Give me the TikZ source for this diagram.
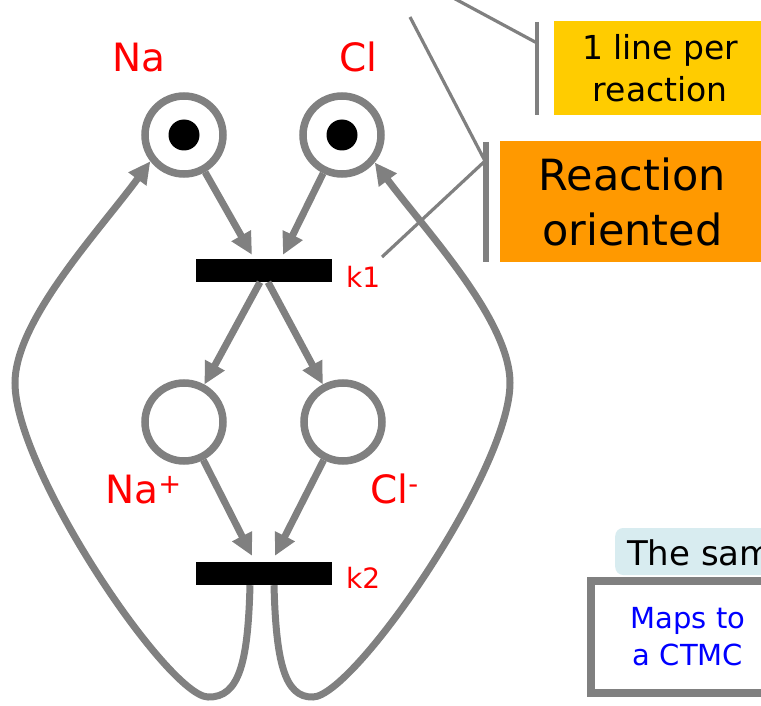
\documentclass[tikz,border=0pt]{standalone}
\usepackage{fontspec}
\setmainfont{DejaVu Sans}
\usepackage{xcolor}
\usepackage{tikz}
\usetikzlibrary{positioning,calc,arrows.meta}
\definecolor{petrigray}{RGB}{128,128,128}
\definecolor{speciesred}{RGB}{255,0,0}
\definecolor{noteyellow}{RGB}{255,204,0}
\definecolor{noteorange}{RGB}{255,153,0}
\definecolor{notecyan}{RGB}{216,236,240}
\definecolor{ctmcblue}{RGB}{0,0,255}

\begin{document}
\begin{tikzpicture}[x=1pt,y=-1pt,
  place/.style={circle,draw=petrigray,line width=7.5pt,minimum size=78pt,inner sep=0pt,fill=white},
  token/.style={circle,fill=black,minimum size=31pt,inner sep=0pt},
  trans/.style={rectangle,fill=black,minimum width=136pt,minimum height=23pt,inner sep=0pt},
  species/.style={text=speciesred,font=\fontsize{39}{44}\selectfont,anchor=base west,inner sep=0pt},
  rate/.style={text=speciesred,font=\fontsize{28}{32}\selectfont,anchor=base west,inner sep=0pt},
  flowarrow/.style={draw=petrigray,line width=7pt,-{Triangle[length=22pt,width=21pt]}},
  callout/.style={draw=petrigray,line width=3.2pt}]
\useasboundingbox (0,0) rectangle (761,706);
\clip (0,0) rectangle (761,706);

\node[fill=noteyellow,anchor=north west,minimum width=212pt,minimum height=94pt,inner sep=0pt,
  align=center,font=\fontsize{33}{42}\selectfont] (perline) at (554,21) {1 line per\\reaction};
\node[fill=noteorange,anchor=north west,minimum width=264pt,minimum height=121pt,inner sep=0pt,
  align=center,font=\fontsize{43}{55}\selectfont] (rxnorient) at (500,141) {Reaction\\oriented};
\node[fill=notecyan,rounded corners=8pt,anchor=base west,inner xsep=12pt,inner ysep=0pt,
  text height=37pt,text depth=10pt,font=\fontsize{34}{40}\selectfont] (samebox) at (615,565) {The sam};
\node[draw=petrigray,line width=8pt,fill=white,anchor=north west,minimum width=194pt,minimum height=112pt,
  inner sep=0pt,align=center,text=ctmcblue,font=\fontsize{29}{37}\selectfont] (ctmcbox) at (587,577) {Maps to\\a CTMC};

\coordinate (barAtop) at (537,22);
\coordinate (barAbot) at (537,115);
\coordinate (barAhook) at (537,43);
\coordinate (barBtop) at (486,142);
\coordinate (barBbot) at (486,262);
\coordinate (barBhook) at (485,161);
\coordinate (offtop) at (420,-20);
\coordinate (nettop) at (410,17);
\coordinate (k1tail) at (382,257);
\draw[callout,line width=3.5pt] (barAtop) -- (barAbot);
\draw[callout,line width=6pt] (barBtop) -- (barBbot);
\draw[callout] (offtop) -- (barAhook);
\draw[callout] (nettop) -- (barBhook);
\draw[callout] (k1tail) -- (barBhook);

\node[place] (Na) at (184,135) {};
\node[place] (Cl) at (342,135) {};
\node[place] (NaP) at (184,422) {};
\node[place] (ClM) at (343,422) {};
\node[token] (NaTok) at (Na) {};
\node[token] (ClTok) at (Cl) {};
\node[trans] (k1) at (264,270.5) {};
\node[trans] (k2) at (264,573.5) {};

\node[species] (NaLab) at (112,72) {Na};
\node[species] (ClLab) at (339,72) {Cl};
\node[species] (NaPLab) at (105,503) {Na\textsuperscript{+}};
\node[species] (ClMLab) at (370,503) {Cl\textsuperscript{-}};
\node[rate] (k1Lab) at (346,287) {k1};
\node[rate] (k2Lab) at (346,588) {k2};

\draw[flowarrow] (Na) -- ([xshift=-12pt,yshift=4pt]k1.north);
\draw[flowarrow] (Cl) -- ([xshift=19pt,yshift=4pt]k1.north);
\draw[flowarrow] ([xshift=-4pt]k1.south) -- (NaP);
\draw[flowarrow] ([xshift=4pt]k1.south) -- (ClM);
\draw[flowarrow] (NaP) -- ([xshift=-12pt,yshift=6pt]k2.north);
\draw[flowarrow] (ClM) -- ([xshift=11pt,yshift=6pt]k2.north);

\coordinate (NaBack) at ([xshift=-14pt]k2.south);
\coordinate (ClBack) at ([xshift=10pt]k2.south);
\draw[flowarrow] (NaBack) .. controls (248,660) and (240,698) .. (208,697)
  .. controls (168,696) and (15,470) .. (15,383)
  .. controls (15,320) and (100,230) .. (Na.-142);
\draw[flowarrow] (ClBack) .. controls (276,660) and (284,698) .. (313,697)
  .. controls (354,696) and (510,470) .. (510,383)
  .. controls (510,320) and (425,230) .. (Cl.-40);
\end{tikzpicture}
\end{document}
